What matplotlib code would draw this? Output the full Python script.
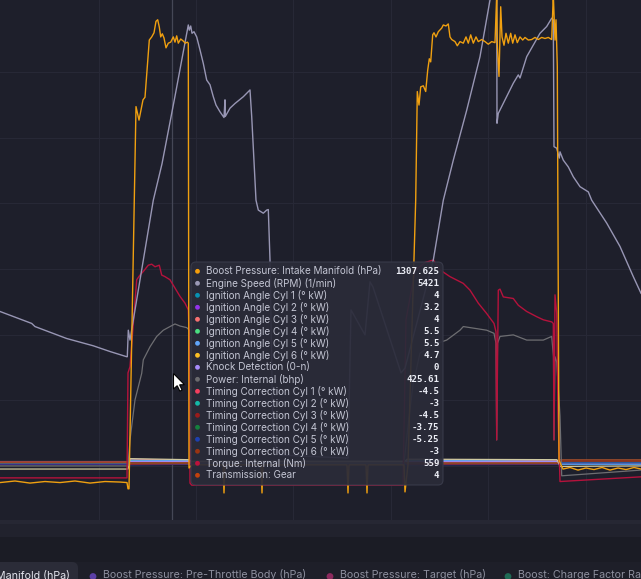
import matplotlib
matplotlib.use("Agg")
import matplotlib.pyplot as plt
from matplotlib.patches import FancyBboxPatch, Rectangle, Circle, Polygon
from matplotlib.transforms import IdentityTransform

# time in s, values in % of each channel's display range
boost = [(0, 7.2), (1.5, 7.5), (3, 7.1), (4.5, 7.4), (6, 7.2), (7.5, 7.5), (9, 7.1), (10.5, 7.4),
         (12, 7.3), (12.7, 7.2), (12.8, 6.0), (12.9, 6.0),
         (13.6, 79.5), (13.9, 76.9), (14.3, 80.8), (14.5, 81.3), (14.67, 85.6), (14.93, 92.3),
         (15.17, 92.9), (15.4, 93.7), (15.6, 95.9), (15.77, 96.2), (15.93, 94.8), (16.07, 92.9),
         (16.23, 93.5), (16.4, 92.7), (16.6, 90.8), (16.83, 91.7), (17.07, 91.9), (17.33, 92.9),
         (17.5, 91.9), (17.67, 93.1), (17.83, 91.7), (18.07, 92.5), (18.33, 92.1), (18.53, 91.7),
         (18.73, 91.9), (18.83, 91.7),
         (18.9, 10.0), (19.2, 10.6), (22.3, 10.6), (22.4, 5.2), (22.5, 10.6), (26.1, 10.6),
         (26.2, 5.2), (26.3, 10.6), (34.7, 10.6), (34.8, 5.2), (34.9, 10.6), (36.6, 10.6),
         (36.7, 5.2), (36.8, 10.6), (40.4, 10.6), (40.5, 5.4), (40.8, 10.6),
         (41.57, 61.5), (41.73, 82.4), (41.9, 79.8), (42.07, 83.3), (42.33, 83.5), (42.57, 82.4),
         (42.77, 86.5), (42.93, 88.7), (43.07, 88.1), (43.27, 93.3), (43.4, 93.7), (43.6, 92.9),
         (43.83, 93.9), (44.17, 94.6), (44.33, 95.2), (44.6, 95.0), (44.83, 95.4), (45.0, 92.9),
         (45.17, 92.4), (45.5, 92.0), (45.73, 91.2), (46.0, 92.0), (46.33, 91.7), (46.6, 92.9),
         (46.83, 91.7), (47.07, 93.3), (47.33, 91.7), (47.6, 92.9), (47.83, 92.0), (48.17, 92.4),
         (48.5, 92.0), (48.83, 91.5), (49.17, 92.0), (49.5, 91.8), (49.67, 101), (49.73, 91.3),
         (49.9, 85.3), (50.07, 98.7), (50.2, 92.9), (50.4, 91.3), (50.6, 93.6), (50.83, 91.7),
         (51.07, 93.6), (51.27, 91.7), (51.5, 93.3), (51.73, 91.8), (52.0, 92.9), (52.27, 92.3),
         (52.5, 92.8), (52.83, 92.3), (53.17, 92.4), (53.5, 92.8), (53.83, 92.4), (54.17, 92.8),
         (54.5, 92.6), (54.83, 92.8), (55.17, 92.4), (55.33, 101), (55.5, 92.3), (55.6, 96.2),
         (55.73, 87.2), (55.9, 11.5), (56.17, 10.3), (56.3, 9.8),
         (57.0, 10.1), (57.8, 9.6), (58.6, 10.0), (59.4, 9.7), (60.2, 10.1), (61.0, 9.6),
         (61.8, 10.0), (62.6, 9.7), (63.4, 10.1), (64.1, 9.8)]

engine_speed = [(0, 40.1), (3.17, 37.8), (3.5, 37.2), (6.67, 34.9), (9.33, 33.5), (11.0, 32.4),
                (12.67, 31.4), (12.73, 31.4), (12.83, 36.5), (13.0, 34.6), (13.5, 40.4),
                (15.33, 61.5), (16.2, 68.5), (17.5, 81.5), (18.83, 95.2), (18.93, 94.2),
                (19.07, 95.0), (19.2, 93.6), (19.4, 93.9), (19.67, 92.9), (20.0, 90.4),
                (20.33, 87.8), (20.67, 84.6), (21.0, 83.7), (21.33, 81.4), (21.6, 79.8),
                (22.0, 78.5), (22.4, 77.4), (22.5, 80.8), (22.53, 77.6), (23.0, 79.2),
                (23.5, 80.1), (24.33, 81.4), (25.0, 82.7), (25.17, 77.6), (25.6, 61.5),
                (25.83, 59.6), (26.33, 59.0), (26.67, 59.6), (26.83, 59.7), (27.0, 50.0),
                (27.3, 15.4), (28.0, 12.5), (34.8, 11.9), (35.1, 40.4), (36.5, 35.6),
                (37.0, 45.8), (37.3, 44.8), (40.1, 28.3), (40.5, 29.2), (43.33, 50.0),
                (44.33, 61.5), (45.33, 69.2), (46.67, 78.8), (48.0, 89.1), (49.0, 100.0),
                (49.3, 102), (49.67, 102), (49.7, 76.3), (49.83, 78.2), (51.33, 84.0),
                (51.83, 85.6), (52.0, 85.0), (52.67, 89.1), (54.0, 93.6), (54.67, 94.9),
                (55.17, 96.5), (55.33, 96.2), (55.4, 71.8), (55.67, 71.5), (55.93, 69.6),
                (56.0, 70.8), (56.33, 69.2), (56.83, 67.9), (57.33, 66.0), (58.0, 64.1),
                (58.83, 63.1), (59.17, 61.5), (60.67, 57.1), (62.0, 52.6), (63.33, 46.8),
                (64.1, 43.6)]

power = [(0, 10.4), (12.8, 10.4), (13.0, 15.4), (13.5, 23.1), (14.17, 28.2), (14.33, 30.8),
         (15.0, 33.3), (15.67, 35.3), (16.33, 36.5), (17.0, 37.2), (17.5, 37.7), (18.0, 37.3),
         (18.67, 37.0), (18.93, 36.5), (19.0, 11.0), (40.4, 11.0), (40.8, 18.0), (41.3, 26.0),
         (42.0, 32.1), (43.3, 33.7), (44.67, 34.6), (46.0, 36.5), (46.33, 37.2), (47.33, 36.9),
         (48.67, 36.5), (49.4, 35.9), (49.6, 34.0), (49.67, 15.4), (49.75, 34.0), (50.0, 35.3),
         (51.33, 35.6), (52.67, 34.6), (54.33, 34.6), (55.17, 35.3), (55.35, 31.4), (55.4, 15.4),
         (55.5, 31.4), (55.67, 30.4), (56.0, 20.0), (56.17, 8.5), (64.1, 9.6)]

torque = [(0, 8.1), (12.7, 8.1), (12.8, 28.3), (13.0, 29.5), (13.67, 46.2), (14.0, 47.1),
          (14.33, 47.8), (14.83, 49.0), (15.17, 49.2), (15.5, 48.7), (15.93, 49.0), (16.17, 47.1),
          (16.5, 46.8), (17.0, 46.2), (17.5, 44.6), (18.0, 43.0), (18.5, 41.7), (18.83, 40.4),
          (18.9, 36.0), (19.0, 7.1), (19.17, 6.7), (40.3, 6.7), (40.6, 38.5), (41.5, 48.0),
          (42.5, 49.5), (43.33, 50.0), (44.0, 48.1), (45.0, 46.8), (46.33, 45.5), (47.0, 44.2),
          (47.83, 41.7), (48.67, 39.7), (49.4, 37.8), (49.6, 36.2), (49.67, 15.4), (49.83, 44.2),
          (50.0, 44.4), (50.33, 42.9), (51.33, 42.6), (51.83, 41.3), (52.67, 40.1), (53.67, 39.1),
          (54.33, 38.5), (55.17, 38.1), (55.33, 37.8), (55.4, 15.4), (55.5, 43.3), (55.67, 39.8),
          (55.8, 20.0), (56.0, 7.4), (64.1, 8.3)]

# low-level channels sit in a narrow band near the bottom
band_t = [0, 12.8, 13.0, 18.9, 19.1, 40.5, 40.7, 55.7, 56.0, 64.1]
ign_cyl1 = [11.0, 11.0, 11.6, 11.4, 11.0, 11.0, 11.5, 11.3, 10.8, 10.8]
ign_cyl2 = [10.8, 10.8, 11.3, 11.2, 10.8, 10.8, 11.2, 11.0, 10.9, 10.9]
ign_cyl3 = [11.1, 11.1, 11.7, 11.5, 11.1, 11.1, 11.6, 11.4, 11.0, 11.0]
ign_cyl4 = [10.9, 10.9, 11.4, 11.3, 10.9, 10.9, 11.4, 11.2, 11.2, 11.2]
ign_cyl5 = [11.2, 11.2, 11.5, 11.4, 11.2, 11.2, 11.5, 11.3, 10.7, 10.7]
ign_cyl6 = [9.8, 9.8, 11.8, 11.6, 11.3, 11.3, 11.7, 11.6, 10.3, 10.4]
knock = [11.3, 11.3, 11.3, 11.3, 11.3, 11.3, 11.3, 11.3, 11.3, 11.3]
tc_cyl1 = [11.0, 11.0, 10.7, 10.8, 11.0, 11.0, 10.7, 10.8, 11.1, 11.1]
tc_cyl2 = [10.9, 10.9, 10.8, 10.8, 10.9, 10.9, 10.8, 10.9, 11.0, 11.0]
tc_cyl3 = [11.1, 11.1, 10.7, 10.8, 11.1, 11.1, 10.7, 10.8, 11.3, 11.3]
tc_cyl4 = [11.0, 11.0, 10.8, 10.9, 11.0, 11.0, 10.8, 10.9, 11.2, 11.2]
tc_cyl5 = [10.8, 10.8, 10.6, 10.7, 10.8, 10.8, 10.6, 10.7, 11.0, 11.0]
tc_cyl6 = [11.2, 11.2, 10.9, 11.0, 11.2, 11.2, 10.9, 11.0, 11.4, 11.4]
gear = [11.0, 11.0, 11.0, 11.0, 11.0, 11.0, 11.0, 11.0, 11.6, 11.6]

hover_t = 17.2
tip_labels = ["Boost Pressure: Intake Manifold (hPa)", "Engine Speed (RPM) (1/min)",
              "Ignition Angle Cyl 1 (° kW)", "Ignition Angle Cyl 2 (° kW)",
              "Ignition Angle Cyl 3 (° kW)", "Ignition Angle Cyl 4 (° kW)",
              "Ignition Angle Cyl 5 (° kW)", "Ignition Angle Cyl 6 (° kW)",
              "Knock Detection (0-n)", "Power: Internal (bhp)",
              "Timing Correction Cyl 1 (° kW)", "Timing Correction Cyl 2 (° kW)",
              "Timing Correction Cyl 3 (° kW)", "Timing Correction Cyl 4 (° kW)",
              "Timing Correction Cyl 5 (° kW)", "Timing Correction Cyl 6 (° kW)",
              "Torque: Internal (Nm)", "Transmission: Gear"]
tip_values = ["1307.625", "5421", "4", "3.2", "4", "5.5", "5.5", "4.7", "0", "425.61",
              "-4.5", "-3", "-4.5", "-3.75", "-5.25", "-3", "559", "4"]
tip_colors = ["#f59e0b", "#9b99b5", "#0891b2", "#9333ea", "#f87171", "#4ade80", "#60a5fa",
              "#fbbf24", "#a78bfa", "#6b6b6e", "#f43f5e", "#14b8a6", "#991b1b", "#15803d",
              "#1e40af", "#9a3412", "#be123c", "#c2410c"]

legend_labels = ["Boost Pressure: Pre-Throttle Body (hPa)", "Boost Pressure: Target (hPa)",
                 "Boost: Charge Factor Ratio"]
legend_colors = ["#5b3fa6", "#8c2a5e", "#1f6b55"]

BG = "#1e1f2b"
W, H = 641, 579
fig = plt.figure(figsize=(W / 100, H / 100), dpi=100, facecolor=BG)
ax = fig.add_axes([0, 59 / H, 1, 520 / H])
ax.set_facecolor(BG)
for s in ax.spines.values():
    s.set_visible(False)
ax.set_xlim(0, 64.1)
ax.set_ylim(0, 100)
ax.set_xticks([9.9, 19.6, 29.3, 39.1, 48.8, 58.6])
ax.set_yticks([10.4, 23.1, 35.6, 48.3, 61.0, 73.5, 86.2])
ax.tick_params(length=0, labelbottom=False, labelleft=False)
ax.grid(True, color="#272836", lw=0.8)
ax.set_axisbelow(True)

ax.axvline(hover_t, color="#454756", lw=0.9, zorder=1.5)

# band channels
band = [(ign_cyl1, "#0891b2"), (ign_cyl2, "#9333ea"), (ign_cyl3, "#f87171"), (ign_cyl4, "#4ade80"),
        (ign_cyl5, "#60a5fa"), (knock, "#a78bfa"), (tc_cyl1, "#f43f5e"), (tc_cyl2, "#14b8a6"),
        (tc_cyl4, "#15803d"), (tc_cyl5, "#1e40af"), (tc_cyl3, "#991b1b"), (tc_cyl6, "#9a3412"),
        (gear, "#a8502c")]
for vals, c in band:
    ax.plot(band_t, vals, color=c, lw=0.8, alpha=0.9, zorder=2)
ax.plot(band_t, ign_cyl6, color="#cfc9a0", lw=0.9, zorder=2.1)

def draw(series, color, lw=1.0, z=3):
    ts = [p[0] for p in series]
    vs = [p[1] for p in series]
    ax.plot(ts, vs, color=color, lw=lw, zorder=z, solid_joinstyle="round")

draw(power, "#6e6e72", 0.9, 3)
draw(torque, "#b5123c", 1.0, 3.2)
draw(engine_speed, "#9896b4", 1.0, 3.4)
draw(boost, "#f0a010", 1.0, 3.6)

# bottom panels
ident = IdentityTransform()
def band_rect(y0, y1, color):
    fig.patches.append(Rectangle((0, H - y1), W, y1 - y0, transform=ident,
                                 facecolor=color, edgecolor="none", zorder=0))
band_rect(520, 524, "#262733")
band_rect(524, 537, "#21222d")
band_rect(537, 562, "#1b1c25")
band_rect(562, 579, "#1e1f29")

# scrolled series legend along the bottom edge
fig.patches.append(FancyBboxPatch((-8, H - 586), 86, 24, boxstyle="round,pad=0,rounding_size=6",
                                  transform=ident, facecolor="#2b2c38", edgecolor="none"))
fig.text(69.5 / W, 1 - 578.5 / H, "Manifold (hPa)", color="#e4e5ee", fontsize=7.7,
         family="Inter", va="baseline", ha="right")
leg_x = [93, 330, 508]
for x, lab, c in zip(leg_x, legend_labels, legend_colors):
    fig.patches.append(Circle((x, H - 576.5), 3.4, transform=ident, facecolor=c, edgecolor="none"))
    fig.text((x + 10) / W, 1 - 578.5 / H, lab, color="#8d8f9e", fontsize=7.7,
             family="Inter", va="baseline", ha="left")

# hover tooltip
fig.patches.append(FancyBboxPatch((191, H - 485), 252, 223, boxstyle="round,pad=0,rounding_size=5",
                                  transform=ident, facecolor="#2a2b39", edgecolor="#3a3c4b",
                                  lw=0.8, alpha=0.93, zorder=5))
for i, (lab, val, c) in enumerate(zip(tip_labels, tip_values, tip_colors)):
    y = 271.3 + 12.0 * i
    fig.patches.append(Circle((197.5, H - y), 2.4, transform=ident, facecolor=c,
                              edgecolor="none", zorder=6))
    fig.text(205.5 / W, 1 - y / H, lab, color="#c3c5d3", fontsize=7.15, family="Inter",
             va="center", ha="left", zorder=6)
    fig.text(439.5 / W, 1 - y / H, val, color="#eceef6", fontsize=6.6, family="DejaVu Sans Mono",
             fontweight="bold", va="center", ha="right", zorder=6)

# mouse pointer
tip = (173.5, 373.5)
arrow = [(0, 0), (0, 15.5), (3.7, 12.2), (6.3, 17.6), (8.6, 16.6), (6.1, 11.3), (11, 11.2)]
fig.patches.append(Polygon([(tip[0] + dx, H - (tip[1] + dy)) for dx, dy in arrow], closed=True,
                           transform=ident, facecolor="white", edgecolor="black", lw=0.8, zorder=7))

fig.savefig("out.png", dpi=100, facecolor=BG)
